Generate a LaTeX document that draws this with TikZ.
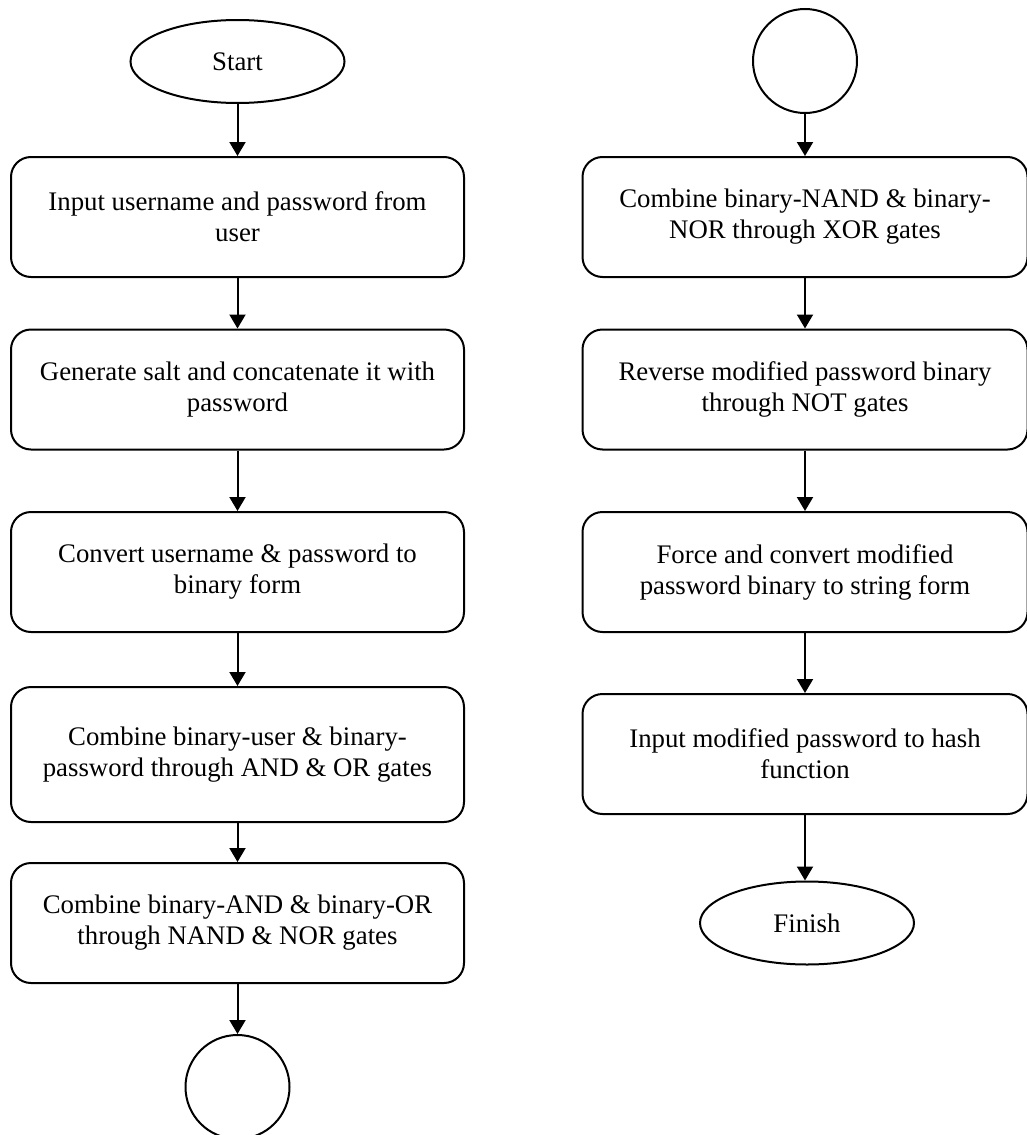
\documentclass[tikz,border=0pt]{standalone}
\usepackage{fontspec}
\setmainfont{Liberation Serif}
\usetikzlibrary{shapes.geometric,arrows.meta}
\begin{document}
\begin{tikzpicture}[x=0.5pt,y=-0.5pt,
  txt/.style={font=\fontsize{13.4}{15.5}\selectfont},
  proc/.style={draw, line width=1pt, rounded corners=10pt, minimum width=226.5pt, minimum height=60pt, align=center, inner sep=0pt, txt},
  term/.style={draw, ellipse, line width=1pt, minimum width=107pt, minimum height=41.5pt, inner sep=0pt, txt},
  conn/.style={draw, circle, line width=1pt, minimum size=52pt, inner sep=0pt},
  flow/.style={line width=1pt, -{Triangle[width=8pt,length=7pt]}}]
\useasboundingbox (0,0) rectangle (1027,1135);
% left column
\node[term] (start) at (237.5,61.5) {Start};
\node[proc] (b1) at (237.5,217) {Input username and password from\\user};
\node[proc] (b2) at (237.5,389.5) {Generate salt and concatenate it with\\password};
\node[proc] (b3) at (237.5,572) {Convert username \& password to\\binary form};
\node[proc, minimum height=67.5pt] (b4) at (237.5,754.5) {Combine binary-user \& binary-\\password through AND \& OR gates};
\node[proc] (b5) at (237.5,923) {Combine binary-AND \& binary-OR\\through NAND \& NOR gates};
\node[conn] (c1) at (237.5,1087) {};
% right column
\node[conn] (c2) at (805,61) {};
\node[proc, minimum width=222.5pt] (b6) at (805,217) {Combine binary-NAND \& binary-\\NOR through XOR gates};
\node[proc, minimum width=222.5pt] (b7) at (805,389.5) {Reverse modified password binary\\through NOT gates};
\node[proc, minimum width=222.5pt] (b8) at (805,572) {Force and convert modified\\password binary to string form};
\node[proc, minimum width=222.5pt] (b9) at (805,754) {Input modified password to hash\\function};
\node[term] (finish) at (807,923) {Finish};
% connectors
\draw[flow] (start) -- (b1);
\draw[flow] (b1) -- (b2);
\draw[flow] (b2) -- (b3);
\draw[flow] (b3) -- (b4);
\draw[flow] (b4) -- (b5);
\draw[flow] (b5) -- (c1);
\draw[flow] (c2) -- (b6);
\draw[flow] (b6) -- (b7);
\draw[flow] (b7) -- (b8);
\draw[flow] (b8) -- (b9);
\draw[flow] (b9.south) -- (b9.south |- finish.north);
\end{tikzpicture}
\end{document}
